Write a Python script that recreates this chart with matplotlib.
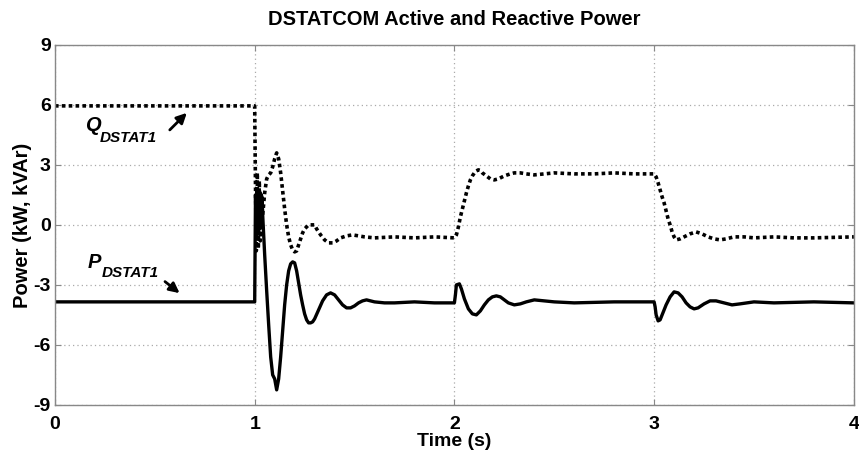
import matplotlib.pyplot as plt

plt.rcParams['font.family'] = ['Liberation Sans', 'DejaVu Sans']
plt.rcParams['font.weight'] = 'bold'
plt.rcParams['axes.unicode_minus'] = False

# reactive power Q_DSTAT1 (kVAr)
t_q = [0.0, 1.0, 1.003, 1.008, 1.013, 1.018, 1.023, 1.028, 1.033, 1.04, 1.05,
       1.06, 1.07, 1.08, 1.09, 1.10, 1.11, 1.12, 1.13, 1.14, 1.15, 1.16,
       1.17, 1.18, 1.19, 1.20, 1.21, 1.22, 1.23, 1.24, 1.25, 1.27, 1.29,
       1.30, 1.31, 1.33, 1.35, 1.37, 1.39, 1.41, 1.43, 1.46, 1.49, 1.52,
       1.55, 1.6, 1.7, 1.8, 1.9, 2.0,
       2.01, 2.02, 2.03, 2.04, 2.05, 2.06, 2.07, 2.08, 2.09, 2.10, 2.11,
       2.12, 2.13, 2.14, 2.16, 2.18, 2.20, 2.22, 2.25, 2.28, 2.30, 2.33,
       2.36, 2.4, 2.45, 2.5, 2.6, 2.7, 2.8, 2.9, 3.0,
       3.01, 3.02, 3.03, 3.04, 3.05, 3.06, 3.07, 3.08, 3.09, 3.10, 3.11,
       3.13, 3.15, 3.18, 3.21, 3.24, 3.27, 3.30, 3.33, 3.36, 3.40, 3.45,
       3.5, 3.6, 3.7, 3.8, 4.0]
q_vals = [5.95, 5.95, 2.8, -1.3, 2.6, -1.2, 2.2, -0.8, 1.5, 0.5, 1.6,
          2.3, 2.5, 2.6, 2.9, 3.3, 3.6, 3.3, 2.6, 1.7, 0.8, 0.0,
          -0.6, -1.0, -1.25, -1.35, -1.3, -1.0, -0.7, -0.4, -0.2, 0.0, 0.0,
          0.0, -0.2, -0.5, -0.75, -0.9, -0.9, -0.8, -0.65, -0.55, -0.5, -0.55,
          -0.6, -0.65, -0.6, -0.65, -0.6, -0.65,
          -0.5, -0.1, 0.4, 0.8, 1.2, 1.6, 1.95, 2.25, 2.45, 2.6, 2.7,
          2.75, 2.72, 2.6, 2.45, 2.3, 2.25, 2.3, 2.45, 2.55, 2.6, 2.6,
          2.55, 2.5, 2.55, 2.6, 2.55, 2.55, 2.6, 2.55, 2.55,
          2.4, 2.1, 1.75, 1.4, 1.1, 0.7, 0.3, 0.0, -0.35, -0.6, -0.75,
          -0.7, -0.6, -0.45, -0.35, -0.45, -0.6, -0.7, -0.75, -0.7, -0.6, -0.6,
          -0.65, -0.6, -0.65, -0.65, -0.6]

# active power P_DSTAT1 (kW)
t_p = [0.0, 1.0, 1.004, 1.008, 1.012, 1.016, 1.02, 1.024, 1.028, 1.032, 1.036,
       1.04, 1.045, 1.05, 1.06, 1.07, 1.08, 1.09, 1.10, 1.11, 1.12, 1.13,
       1.14, 1.15, 1.16, 1.17, 1.18, 1.19, 1.20, 1.21, 1.22, 1.23, 1.24,
       1.25, 1.26, 1.27, 1.28, 1.29, 1.30, 1.32, 1.34, 1.36, 1.38, 1.40,
       1.42, 1.44, 1.46, 1.48, 1.50, 1.52, 1.54, 1.56, 1.58, 1.6, 1.65,
       1.7, 1.8, 1.9, 2.0,
       2.005, 2.01, 2.025, 2.035, 2.05, 2.07, 2.09, 2.11, 2.13, 2.15, 2.17,
       2.19, 2.21, 2.23, 2.25, 2.27, 2.30, 2.33, 2.36, 2.4, 2.45, 2.5,
       2.6, 2.8, 3.0,
       3.005, 3.01, 3.02, 3.03, 3.04, 3.06, 3.08, 3.10, 3.12, 3.14, 3.16,
       3.18, 3.20, 3.22, 3.25, 3.28, 3.31, 3.35, 3.39, 3.43, 3.5, 3.6,
       3.8, 4.0]
p_vals = [-3.85, -3.85, 1.5, -0.5, 1.8, -0.3, 1.7, -0.2, 1.6, 0.0, 1.4,
          0.5, -0.5, -1.5, -3.3, -5.0, -6.6, -7.5, -7.7, -8.25, -7.7, -6.6,
          -5.3, -4.0, -3.0, -2.3, -1.95, -1.85, -1.9, -2.3, -2.9, -3.5, -4.0,
          -4.45, -4.75, -4.9, -4.9, -4.85, -4.7, -4.25, -3.8, -3.5, -3.4, -3.5,
          -3.75, -4.0, -4.15, -4.15, -4.05, -3.9, -3.8, -3.75, -3.8, -3.85, -3.9,
          -3.9, -3.85, -3.9, -3.9,
          -3.5, -3.0, -2.95, -3.2, -3.7, -4.2, -4.45, -4.5, -4.3, -4.0, -3.75,
          -3.6, -3.55, -3.6, -3.75, -3.9, -4.0, -3.95, -3.85, -3.75, -3.8, -3.85,
          -3.9, -3.85, -3.85,
          -4.1, -4.5, -4.8, -4.75, -4.5, -4.0, -3.6, -3.35, -3.4, -3.6, -3.9,
          -4.1, -4.2, -4.15, -3.95, -3.8, -3.8, -3.9, -4.0, -3.95, -3.85, -3.9,
          -3.85, -3.9]

x_ticks = [0, 1, 2, 3, 4]
y_ticks = [-9, -6, -3, 0, 3, 6, 9]

fig = plt.figure(figsize=(8.59, 4.58), dpi=100)
ax = fig.add_axes([0.064, 0.116, 0.93, 0.786])

ax.plot(t_q, q_vals, color='black', linewidth=2.6, linestyle=(0, (1, 0.9)))
ax.plot(t_p, p_vals, color='black', linewidth=2.4)

ax.set_xlim(0, 4)
ax.set_ylim(-9, 9)
ax.set_xticks(x_ticks)
ax.set_yticks(y_ticks)
ax.tick_params(direction='in', length=4, labelsize=14, color='#888888',
               top=True, right=True)
ax.tick_params(axis='x', pad=8)
ax.tick_params(axis='y', pad=3)
for lbl in ax.get_xticklabels() + ax.get_yticklabels():
    lbl.set_fontweight('bold')
ax.grid(True, color='#aaaaaa', linestyle=(0, (1, 2.5)), linewidth=0.9)
for sp in ax.spines.values():
    sp.set_color('#888888')
    sp.set_linewidth(1.0)

ax.set_title('DSTATCOM Active and Reactive Power', fontsize=14.5,
             fontweight='bold', pad=14)
ax.set_xlabel('Time (s)', fontsize=14, fontweight='bold', labelpad=0)
ax.set_ylabel('Power (kW, kVAr)', fontsize=14.5, fontweight='bold', labelpad=1)

# series labels with arrows
ax.text(0.15, 4.95, 'Q', fontsize=14.5, fontweight='bold', style='italic',
        va='center', ha='left')
ax.text(0.222, 4.35, 'DSTAT1', fontsize=11, fontweight='bold', style='italic',
        va='center', ha='left')
ax.annotate('', xy=(0.67, 5.7), xytext=(0.565, 4.65),
            arrowprops=dict(arrowstyle='-|>', color='black', lw=2,
                            mutation_scale=15))

ax.text(0.165, -1.9, 'P', fontsize=14.5, fontweight='bold', style='italic',
        va='center', ha='left')
ax.text(0.232, -2.4, 'DSTAT1', fontsize=11, fontweight='bold', style='italic',
        va='center', ha='left')
ax.annotate('', xy=(0.635, -3.5), xytext=(0.54, -2.75),
            arrowprops=dict(arrowstyle='-|>', color='black', lw=2,
                            mutation_scale=15))

fig.savefig('out.png', dpi=100)
